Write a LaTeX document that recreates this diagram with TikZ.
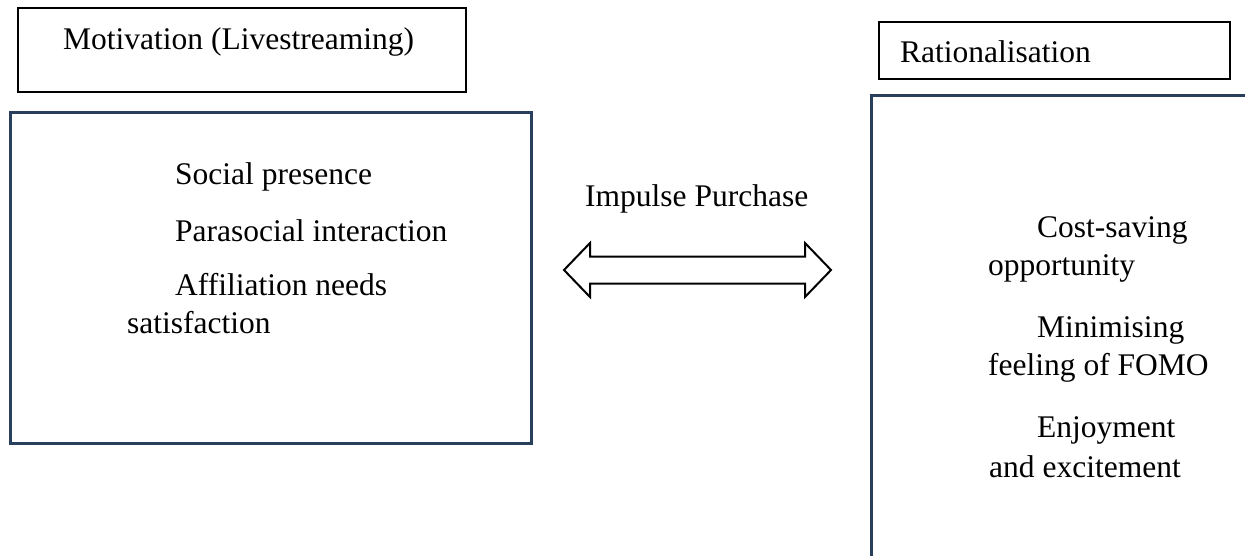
\documentclass[tikz,border=0pt]{standalone}
\usepackage{fontspec}
\setmainfont{Liberation Serif}
\definecolor{frameblue}{RGB}{40,64,94}
\begin{document}
\begin{tikzpicture}[x=1pt,y=-1pt,
  titlebox/.style={draw=black,line width=1.6pt},
  groupbox/.style={draw=frameblue,line width=3pt},
  txt/.style={anchor=base west,inner sep=0pt,font=\fontsize{31.5}{36}\selectfont},
  bigarrow/.style={draw=black,line width=2pt,line join=miter,fill=white}]
\clip (0,0) rectangle (1245,556);
\fill[white] (0,0) rectangle (1245,556);

% heading boxes
\draw[titlebox] (18,8) rectangle (466,92);
\node[txt] (mottitle) at (63,50) {Motivation (Livestreaming)};
\draw[titlebox] (879,22) rectangle (1230,79);
\node[txt] (rattitle) at (900,63) {Rationalisation};

% motivation factors
\draw[groupbox] (10,113) rectangle (531,443);
\node[txt] (social) at (175,185) {Social presence};
\node[txt] (parasocial) at (175,241) {Parasocial interaction};
\node[txt] (affil) at (175,295) {Affiliation needs};
\node[txt] (affilb) at (127,333) {satisfaction};

% rationalisation factors (box runs past the page edge)
\draw[groupbox] (1260,96) -- (871,96) -- (871,570);
\node[txt] (cost) at (1037,237) {Cost-saving};
\node[txt] (costb) at (988,275) {opportunity};
\node[txt] (fomo) at (1037,337) {Minimising};
\node[txt] (fomob) at (988,375) {feeling of FOMO};
\node[txt] (enjoy) at (1037,437) {Enjoyment};
\node[txt] (enjoyb) at (989,477) {and excitement};

% impulse purchase link
\node[txt] (impulse) at (585,207) {Impulse Purchase};
\coordinate (tipl) at (564,270);
\coordinate (tipr) at (831,270);
\draw[bigarrow] (tipl) -- ++(26,-27) -- ++(0,13.5) -- (805,256.5) -- ++(0,-13.5)
  -- (tipr) -- ++(-26,27) -- ++(0,-13.5) -- (590,283.5) -- ++(0,13.5) -- cycle;
\end{tikzpicture}
\end{document}
